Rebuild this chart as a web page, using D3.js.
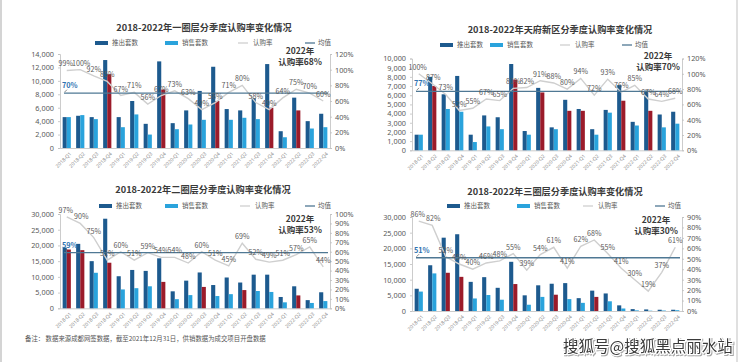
<!DOCTYPE html>
<html><head><meta charset="utf-8">
<script src="https://cdn.jsdelivr.net/npm/d3@7/dist/d3.min.js"></script>
<style>
html,body{margin:0;padding:0;background:#fff;}
svg{display:block;font-family:"Noto Sans CJK SC","Noto Sans",sans-serif;}
</style></head>
<body>
<svg id="c" width="740" height="362"></svg>
<script>
const categories = ["2018-Q1","2018-Q2","2018-Q3","2018-Q4","2019-Q1","2019-Q2","2019-Q3","2019-Q4","2020-Q1","2020-Q2","2020-Q3","2020-Q4","2021-Q1","2021-Q2","2021-Q3","2021-Q4","2022-Q1","2022-Q2","2022-Q3","2022-Q4"];
const legendNames = ["推出套数","销售套数","认购率","均值"];

// 一圈层
const supply1 = [4600,4800,4600,13100,4600,7000,3600,12900,3700,5600,8500,12100,5800,5600,7400,12500,2500,7500,4000,5100];
const sales1  = [4600,4900,4300,11000,3100,5000,2000,8700,2800,3500,4200,7000,4200,4500,4300,6000,1600,5600,2900,3100];
const rate1   = [99,100,92,85,67,71,56,67,73,63,49,58,71,80,58,49,64,75,70,60];
const highlight1 = [3,7,11,15,17];
const mean1 = 70, rate2022_1 = 68;

// 天府新区
const supply2 = [1700,8000,6100,8100,1700,3800,3600,9400,2100,6800,2500,5500,4500,2300,4400,7100,3100,6500,3900,4200];
const sales2  = [1700,7000,4500,4200,900,2600,2300,7700,1700,6300,2300,4300,4300,1700,4100,5400,2700,4300,2500,2900];
const rate2   = [100,87,73,52,55,67,65,81,82,91,88,80,94,72,93,76,85,67,64,68];
const highlight2 = [1,7,9,11,12,15,17];
const mean2 = 77, rate2022_2 = 70;

// 二圈层
const supply3 = [19300,20500,15000,28500,10200,12200,11900,15900,5400,8800,11400,7400,9800,8200,10700,10700,3600,7000,2600,5100];
const sales3  = [18700,18500,11300,14500,6000,6400,7000,8400,2900,4200,6800,3900,4500,5800,5500,5200,1900,4100,1700,2300];
const rate3   = [97,90,75,51,60,51,59,54,54,48,60,51,45,69,52,49,51,57,65,44];
const highlight3 = [0,1,3,7,10,13,17];
const mean3 = 59, rate2022_3 = 53;

// 三圈层
const supply4 = [7100,14600,23400,24500,9300,10800,7400,15700,5000,8200,8700,8900,4100,6500,5600,1800,600,500,400,400];
const sales4  = [6200,12000,12200,10900,4000,5100,3600,8600,2000,4500,5200,3800,2600,4500,3100,800,200,100,150,250];
const rate4   = [86,82,52,45,40,46,48,55,39,54,61,41,62,68,55,41,30,19,37,61];
const highlight4 = [2,3,7,10,13];
const mean4 = 51, rate2022_4 = 30;

const titles = ["2018-2022年一圈层分季度认购率变化情况","2018-2022年天府新区分季度认购率变化情况","2018-2022年二圈层分季度认购率变化情况","2018-2022年三圈层分季度认购率变化情况"];
const leftMax = [14000,10000,30000,30000];
const leftStep = [2000,1000,5000,5000];
const rightMax = [120,120,100,90];
const rightStep = [20,20,10,10];
const footnote = "备注：  数据来源成都网签数据，截至2021年12月31日，供销数据为成交项目开盘数据";
const watermark = "搜狐号@搜狐黑点丽水站";

const C = {dark:"#1d5a8e", light:"#2aa3dc", red:"#9b1b2a", rate:"#cfcfcf", mean:"#4f7894", txt:"#595959", axis:"#bfbfbf", meanTxt:"#2e72b0"};

const panels = [
  {supply:supply1,sales:sales1,rate:rate1,hl:highlight1,mean:mean1,r22:rate2022_1,
   x0:60,x1:330,yT:54,yB:148,tx:204,ty:31,ly:43,lx:[95,165,238,305],ax:300,ay:[54,65]},
  {supply:supply2,sales:sales2,rate:rate2,hl:highlight2,mean:mean2,r22:rate2022_2,
   x0:412,x1:682,yT:58.5,yB:150.3,tx:560,ty:33,ly:45,lx:[440,490,560,622],ax:658,ay:[59,70]},
  {supply:supply3,sales:sales3,rate:rate3,hl:highlight3,mean:mean3,r22:rate2022_3,
   x0:60,x1:330,yT:214,yB:308.3,tx:203,ty:193,ly:206,lx:[99,165,240,305],ax:300,ay:[222,233]},
  {supply:supply4,sales:sales4,rate:rate4,hl:highlight4,mean:mean4,r22:rate2022_4,
   x0:412,x1:682,yT:217,yB:311,tx:555,ty:195,ly:206,lx:[447,517,583,655],ax:656,ay:[223,234]}
];

const svg = d3.select("#c");
svg.append("rect").attr("x",0).attr("y",0).attr("width",740).attr("height",362).attr("fill","#fff");
svg.append("rect").attr("x",0).attr("y",0).attr("width",2).attr("height",362).attr("fill","#d4d4d4");
svg.append("rect").attr("x",736).attr("y",0).attr("width",2).attr("height",362).attr("fill","#e0e0e0");

panels.forEach((p,i)=>{
  const g = svg.append("g");
  const x = d3.scaleBand().domain(categories).range([p.x0,p.x1]).padding(0);
  const yL = d3.scaleLinear().domain([0,leftMax[i]]).range([p.yB,p.yT]);
  const yR = d3.scaleLinear().domain([0,rightMax[i]]).range([p.yB,p.yT]);
  const bw = 4.1;
  const cx = c => x(c)+x.bandwidth()/2;

  g.append("text").attr("x",p.tx).attr("y",p.ty).attr("text-anchor","middle")
    .attr("font-size",9.2).attr("font-weight","bold").attr("fill","#3a3a3a").text(titles[i]);

  const lg = g.append("g").attr("font-size",6.5).attr("fill",C.txt);
  lg.append("rect").attr("x",p.lx[0]).attr("y",p.ly-2).attr("width",13).attr("height",4).attr("fill",C.dark);
  lg.append("text").attr("x",p.lx[0]+17).attr("y",p.ly+2.3).text(legendNames[0]);
  lg.append("rect").attr("x",p.lx[1]).attr("y",p.ly-2).attr("width",13).attr("height",4).attr("fill",C.light);
  lg.append("text").attr("x",p.lx[1]+17).attr("y",p.ly+2.3).text(legendNames[1]);
  lg.append("line").attr("x1",p.lx[2]).attr("x2",p.lx[2]+10).attr("y1",p.ly).attr("y2",p.ly).attr("stroke",C.rate).attr("stroke-width",1.3);
  lg.append("text").attr("x",p.lx[2]+15).attr("y",p.ly+2.3).text(legendNames[2]);
  lg.append("line").attr("x1",p.lx[3]).attr("x2",p.lx[3]+10).attr("y1",p.ly).attr("y2",p.ly).attr("stroke",C.mean).attr("stroke-width",1.3);
  lg.append("text").attr("x",p.lx[3]+13).attr("y",p.ly+2.3).text(legendNames[3]);

  const axL = d3.axisLeft(yL).tickValues(d3.range(0,leftMax[i]+1,leftStep[i])).tickSize(2).tickPadding(4);
  const gl = g.append("g").attr("transform",`translate(${p.x0},0)`).call(axL);
  const axR = d3.axisRight(yR).tickValues(d3.range(0,rightMax[i]+1,rightStep[i])).tickSize(2).tickPadding(3).tickFormat(d=>d+"%");
  const gr = g.append("g").attr("transform",`translate(${p.x1},0)`).call(axR);
  const axB = d3.axisBottom(x).tickSize(0).tickPadding(3);
  const gb = g.append("g").attr("transform",`translate(0,${p.yB})`).call(axB);
  [gl,gr,gb].forEach(a=>{
    a.selectAll("path,line").attr("stroke",C.axis).attr("stroke-width",0.8);
    a.selectAll("text").attr("fill",C.txt).attr("font-family","'Noto Sans','Open Sans',sans-serif");
  });
  gl.selectAll("text").attr("font-size",7.3);
  gr.selectAll("text").attr("font-size",7.3);
  gb.selectAll("text").attr("font-size",5).attr("fill","#888")
    .attr("text-anchor","end").attr("dy",0)
    .attr("transform",function(){return "translate(3,4) rotate(-45)";});

  g.append("g").selectAll("rect").data(categories).join("rect")
    .attr("x",c=>cx(c)-bw).attr("width",bw)
    .attr("y",(c,k)=>yL(p.supply[k])).attr("height",(c,k)=>p.yB-yL(p.supply[k]))
    .attr("fill",C.dark);
  g.append("g").selectAll("rect").data(categories).join("rect")
    .attr("x",c=>cx(c)).attr("width",bw)
    .attr("y",(c,k)=>yL(p.sales[k])).attr("height",(c,k)=>p.yB-yL(p.sales[k]))
    .attr("fill",(c,k)=>p.hl.includes(k)?C.red:C.light);

  const line = d3.line().x((d,k)=>cx(categories[k])).y(d=>yR(d));
  g.append("path").datum(p.rate).attr("d",line).attr("fill","none")
    .attr("stroke",C.rate).attr("stroke-width",1.4);

  const ym = yR(p.mean);
  g.append("line").attr("x1",p.x0+4).attr("x2",p.x1-2).attr("y1",ym).attr("y2",ym)
    .attr("stroke",C.mean).attr("stroke-width",1.4);
  g.append("text").attr("x",p.x0+2).attr("y",ym-5).attr("font-size",7.3).attr("font-weight","bold")
    .attr("fill",C.meanTxt).text(p.mean+"%");
  g.append("line").attr("x1",p.x0+7).attr("x2",p.x0+4.5).attr("y1",ym-3.5).attr("y2",ym-1)
    .attr("stroke","#555").attr("stroke-width",0.7);

  g.append("g").selectAll("text").data(p.rate).join("text")
    .attr("x",(d,k)=>cx(categories[k])+(k===0?-1:k===1?1:0)).attr("y",d=>yR(d)-4)
    .attr("text-anchor","middle").attr("font-size",7.1).attr("fill",C.txt)
    .text(d=>d+"%");

  g.append("text").attr("x",p.ax).attr("y",p.ay[0]).attr("text-anchor","middle")
    .attr("font-size",8.5).attr("font-weight","bold").attr("fill","#3a3a3a").text("2022年");
  g.append("text").attr("x",p.ax).attr("y",p.ay[1]).attr("text-anchor","middle")
    .attr("font-size",8.5).attr("font-weight","bold").attr("fill","#3a3a3a").text("认购率"+p.r22+"%");
});

svg.append("text").attr("x",25).attr("y",341).attr("font-size",6.4).attr("fill","#555").text(footnote);
svg.append("text").attr("x",563).attr("y",352).attr("font-size",15.5).attr("fill","#3a3a3a")
  .attr("stroke","#fff").attr("stroke-width",2.5).attr("paint-order","stroke")
  .style("filter","drop-shadow(1px 1px 0.6px rgba(0,0,0,0.35))").text(watermark);
</script>
</body></html>
